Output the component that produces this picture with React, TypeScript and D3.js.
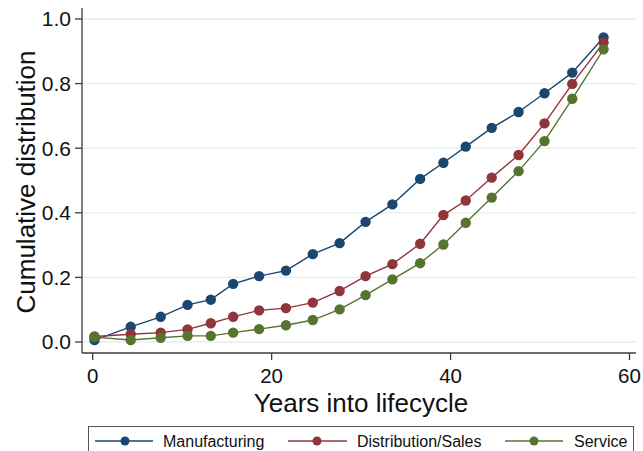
import React from "react";
import * as d3 from "d3";

// Years into lifecycle (shared by all series)
const years = [0.2, 4.25, 7.6, 10.6, 13.2, 15.7, 18.6, 21.6, 24.6, 27.6, 30.5, 33.5, 36.6, 39.2, 41.7, 44.6, 47.6, 50.5, 53.6, 57.1];

const manufacturing = [0.006, 0.047, 0.078, 0.115, 0.131, 0.18, 0.204, 0.221, 0.272, 0.306, 0.372, 0.426, 0.505, 0.555, 0.605, 0.663, 0.712, 0.77, 0.834, 0.943];
const distributionSales = [0.017, 0.024, 0.029, 0.039, 0.058, 0.078, 0.098, 0.105, 0.122, 0.158, 0.204, 0.241, 0.304, 0.393, 0.438, 0.509, 0.579, 0.677, 0.799, 0.927];
const service = [0.015, 0.006, 0.013, 0.019, 0.019, 0.029, 0.04, 0.052, 0.068, 0.101, 0.145, 0.194, 0.244, 0.302, 0.369, 0.447, 0.529, 0.622, 0.753, 0.906];

const seriesNames = ["Manufacturing", "Distribution/Sales", "Service"];
const seriesColors = ["#1a476f", "#90353b", "#55752f"];
const seriesValues = [manufacturing, distributionSales, service];

const yTicks = [0, 0.2, 0.4, 0.6, 0.8, 1.0];
const xTicks = [0, 20, 40, 60];

const FONT = "Arial, 'Liberation Sans', sans-serif";

export default function App() {
  const W = 643;
  const H = 451;
  const x = d3.scaleLinear().domain([0, 60]).range([92.7, 629.5]);
  const y = d3.scaleLinear().domain([0, 1]).range([342, 19]);

  const axisX = 82;
  const axisY = 353;
  const plotRight = 636;
  const plotTop = 8;

  const line = d3
    .line<[number, number]>()
    .x((d) => x(d[0]))
    .y((d) => y(d[1]));

  // legend layout
  const legendItems = [
    { lx0: 95, lx1: 153, mx: 125, tx: 163 },
    { lx0: 288, lx1: 347, mx: 317, tx: 357 },
    { lx0: 505, lx1: 563, mx: 534, tx: 574 },
  ];

  return (
    <svg
      width={W}
      height={H}
      style={{ position: "absolute", left: 0, top: 0, background: "#fff" }}
      fontFamily={FONT}
    >
      <rect x={0} y={0} width={W} height={H} fill="#ffffff" />
      {/* gridlines */}
      {yTicks.map((t) => (
        <line
          key={"g" + t}
          x1={axisX}
          x2={plotRight}
          y1={y(t)}
          y2={y(t)}
          stroke="#e6eef1"
          strokeWidth={1.3}
        />
      ))}
      {/* axes */}
      <line x1={axisX} x2={axisX} y1={plotTop} y2={axisY} stroke="#3c3c3c" strokeWidth={1.3} />
      <line x1={axisX} x2={plotRight} y1={axisY} y2={axisY} stroke="#3c3c3c" strokeWidth={1.3} />
      {yTicks.map((t) => (
        <g key={"yt" + t}>
          <line x1={axisX - 7} x2={axisX} y1={y(t)} y2={y(t)} stroke="#3c3c3c" strokeWidth={1.3} />
          <text
            x={71}
            y={y(t)}
            dy="0.35em"
            textAnchor="end"
            fontSize={21}
            fill="#111"
          >
            {t.toFixed(1)}
          </text>
        </g>
      ))}
      {xTicks.map((t) => (
        <g key={"xt" + t}>
          <line x1={x(t)} x2={x(t)} y1={axisY} y2={axisY + 7} stroke="#3c3c3c" strokeWidth={1.3} />
          <text x={x(t)} y={383} textAnchor="middle" fontSize={20.5} fill="#111">
            {t}
          </text>
        </g>
      ))}
      <text x={361} y={412} textAnchor="middle" fontSize={26} fill="#111">
        Years into lifecycle
      </text>
      <text
        transform={`translate(35, 182) rotate(-90)`}
        textAnchor="middle"
        fontSize={26}
        fill="#111"
      >
        Cumulative distribution
      </text>
      {/* series */}
      {seriesValues.map((vals, i) => {
        const pts: [number, number][] = years.map((yr, j) => [yr, vals[j]]);
        return (
          <g key={"s" + i}>
            <path d={line(pts) || ""} fill="none" stroke={seriesColors[i]} strokeWidth={1.4} />
            {pts.map((p, j) => (
              <circle key={j} cx={x(p[0])} cy={y(p[1])} r={5.2} fill={seriesColors[i]} />
            ))}
          </g>
        );
      })}
      {/* legend */}
      <rect x={88.5} y={426.5} width={545} height={40} fill="#fff" stroke="#555" strokeWidth={1} />
      {legendItems.map((it, i) => (
        <g key={"l" + i}>
          <line x1={it.lx0} x2={it.lx1} y1={441} y2={441} stroke={seriesColors[i]} strokeWidth={1.4} />
          <circle cx={it.mx} cy={441} r={4.5} fill={seriesColors[i]} />
          <text x={it.tx} y={447} fontSize={16} fill="#111">
            {seriesNames[i]}
          </text>
        </g>
      ))}
    </svg>
  );
}
